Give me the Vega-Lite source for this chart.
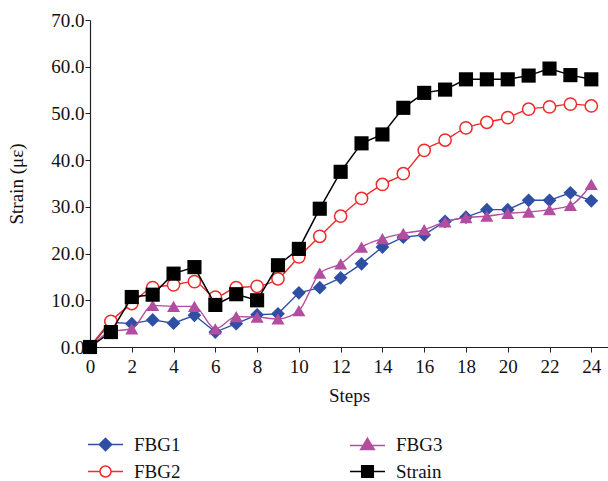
{
  "$schema": "https://vega.github.io/schema/vega-lite/v6.json",
  "width": 518,
  "height": 327,
  "autosize": {"type": "none"},
  "padding": {"left": 90, "top": 20, "right": 0, "bottom": 134},
  "background": "white",
  "config": {
    "view": {"stroke": null},
    "axis": {
      "grid": false,
      "domainColor": "#222",
      "domainWidth": 1.2,
      "tickColor": "#222",
      "tickSize": 5,
      "labelFont": "Liberation Serif",
      "labelFontSize": 19,
      "labelColor": "#111",
      "titleFont": "Liberation Serif",
      "titleFontSize": 19,
      "titleFontWeight": "normal",
      "titleColor": "#111"
    },
    "legend": {
      "labelFont": "Liberation Serif",
      "labelFontSize": 19,
      "labelColor": "#111"
    }
  },
  "data": {
    "values": [
      {"step": 0, "FBG1": 0.0, "FBG2": 0.0, "FBG3": 0.0, "Strain": 0.0},
      {"step": 1, "FBG1": 5.3, "FBG2": 5.5, "FBG3": 3.3, "Strain": 3.2},
      {"step": 2, "FBG1": 5.0, "FBG2": 9.3, "FBG3": 3.9, "Strain": 10.7},
      {"step": 3, "FBG1": 5.8, "FBG2": 12.7, "FBG3": 8.9, "Strain": 11.2},
      {"step": 4, "FBG1": 5.1, "FBG2": 13.3, "FBG3": 8.7, "Strain": 15.7},
      {"step": 5, "FBG1": 6.8, "FBG2": 14.0, "FBG3": 8.7, "Strain": 17.1},
      {"step": 6, "FBG1": 3.2, "FBG2": 10.7, "FBG3": 3.9, "Strain": 9.0},
      {"step": 7, "FBG1": 5.0, "FBG2": 12.7, "FBG3": 6.5, "Strain": 11.3},
      {"step": 8, "FBG1": 6.9, "FBG2": 13.0, "FBG3": 6.4, "Strain": 10.0},
      {"step": 9, "FBG1": 7.1, "FBG2": 14.6, "FBG3": 6.0, "Strain": 17.5},
      {"step": 10, "FBG1": 11.6, "FBG2": 19.3, "FBG3": 7.8, "Strain": 21.0},
      {"step": 11, "FBG1": 12.7, "FBG2": 23.7, "FBG3": 15.8, "Strain": 29.6},
      {"step": 12, "FBG1": 14.8, "FBG2": 28.0, "FBG3": 17.8, "Strain": 37.5},
      {"step": 13, "FBG1": 17.8, "FBG2": 31.8, "FBG3": 21.4, "Strain": 43.6},
      {"step": 14, "FBG1": 21.4, "FBG2": 34.8, "FBG3": 23.2, "Strain": 45.5},
      {"step": 15, "FBG1": 23.5, "FBG2": 37.1, "FBG3": 24.3, "Strain": 51.2},
      {"step": 16, "FBG1": 24.0, "FBG2": 42.1, "FBG3": 25.1, "Strain": 54.4},
      {"step": 17, "FBG1": 26.9, "FBG2": 44.3, "FBG3": 26.8, "Strain": 55.1},
      {"step": 18, "FBG1": 27.8, "FBG2": 46.9, "FBG3": 27.7, "Strain": 57.3},
      {"step": 19, "FBG1": 29.4, "FBG2": 48.1, "FBG3": 28.0, "Strain": 57.3},
      {"step": 20, "FBG1": 29.4, "FBG2": 49.1, "FBG3": 28.6, "Strain": 57.3},
      {"step": 21, "FBG1": 31.4, "FBG2": 50.9, "FBG3": 28.9, "Strain": 58.1},
      {"step": 22, "FBG1": 31.4, "FBG2": 51.4, "FBG3": 29.4, "Strain": 59.6},
      {"step": 23, "FBG1": 33.0, "FBG2": 52.0, "FBG3": 30.3, "Strain": 58.2},
      {"step": 24, "FBG1": 31.3, "FBG2": 51.6, "FBG3": 34.8, "Strain": 57.3}
    ]
  },
  "encoding": {
    "x": {
      "field": "step",
      "type": "quantitative",
      "scale": {"domain": [0, 24.8], "nice": false, "zero": false},
      "axis": {
        "title": "Steps",
        "values": [0, 2, 4, 6, 8, 10, 12, 14, 16, 18, 20, 22, 24],
        "labelPadding": 5,
        "titlePadding": 10,
        "labelFlush": false,
        "labelBound": false
      }
    }
  },
  "layer": [
    {
      "mark": {"type": "line", "color": "#2e4fa3", "strokeWidth": 1.4},
      "encoding": {
        "y": {
          "field": "FBG1",
          "type": "quantitative",
          "scale": {"domain": [0, 70], "nice": false},
          "axis": {
            "title": "Strain (με)",
            "values": [0, 10, 20, 30, 40, 50, 60, 70],
            "format": ".1f",
            "labelPadding": 1,
            "titlePadding": 24,
            "labelFlush": false
          }
        }
      }
    },
    {
      "mark": {"type": "point", "shape": "diamond", "filled": true, "color": "#2e4fa3", "size": 190, "opacity": 1},
      "encoding": {"y": {"field": "FBG1", "type": "quantitative"}}
    },
    {
      "mark": {"type": "line", "color": "#ee2a2a", "strokeWidth": 1.4, "interpolate": "monotone"},
      "encoding": {"y": {"field": "FBG2", "type": "quantitative"}}
    },
    {
      "mark": {"type": "point", "shape": "circle", "filled": true, "fill": "white", "stroke": "#ee2a2a", "strokeWidth": 1.5, "size": 150, "opacity": 1},
      "encoding": {"y": {"field": "FBG2", "type": "quantitative"}}
    },
    {
      "mark": {"type": "line", "color": "#b24d9f", "strokeWidth": 1.4, "interpolate": "monotone"},
      "encoding": {"y": {"field": "FBG3", "type": "quantitative"}}
    },
    {
      "mark": {"type": "point", "shape": "triangle-up", "filled": true, "color": "#b24d9f", "size": 170, "opacity": 1},
      "encoding": {"y": {"field": "FBG3", "type": "quantitative"}}
    },
    {
      "mark": {"type": "line", "color": "#000000", "strokeWidth": 1.5},
      "encoding": {"y": {"field": "Strain", "type": "quantitative"}}
    },
    {
      "mark": {"type": "point", "shape": "square", "filled": true, "color": "#000000", "size": 200, "opacity": 1},
      "encoding": {"y": {"field": "Strain", "type": "quantitative"}}
    },
    {
      "transform": [
        {"fold": ["FBG1", "FBG2", "FBG3", "Strain"], "as": ["series", "val"]}
      ],
      "mark": {"type": "point", "filled": true, "opacity": 0, "strokeWidth": 1.5},
      "encoding": {
        "y": {"field": "val", "type": "quantitative"},
        "shape": {
          "field": "series",
          "type": "nominal",
          "scale": {
            "domain": ["FBG1", "FBG2", "FBG3", "Strain"],
            "range": [
              "M-1.75,0L-0.62,0L0,-0.62L0.62,0L1.75,0L0.62,0L0,0.62L-0.62,0Z",
              "M-1.75,0L-0.55,0M0.55,0L1.75,0M0.55,0A0.55,0.55,0,1,1,-0.55,0A0.55,0.55,0,1,1,0.55,0Z",
              "M-1.75,0.1L1.75,0.1M0,-0.62L0.68,0.5L-0.68,0.5Z",
              "M-1.75,0L1.75,0M-0.58,-0.58L0.58,-0.58L0.58,0.58L-0.58,0.58Z"
            ]
          },
          "legend": {
            "title": null,
            "orient": "none",
            "legendX": 4.5,
            "legendY": 413.5,
            "columns": 2,
            "columnPadding": 166,
            "rowPadding": 6,
            "labelOffset": 17.5,
            "symbolSize": 400,
            "symbolStrokeWidth": 1.5,
            "symbolOpacity": 1,
            "values": ["FBG1", "FBG2", "FBG3", "Strain"],
            "encode": {"symbols": {"update": {"opacity": {"value": 1}}}}
          }
        },
        "fill": {
          "field": "series",
          "type": "nominal",
          "scale": {
            "domain": ["FBG1", "FBG2", "FBG3", "Strain"],
            "range": ["#2e4fa3", "#ffffff", "#b24d9f", "#000000"]
          },
          "legend": {
            "title": null,
            "orient": "none",
            "legendX": 4.5,
            "legendY": 413.5,
            "columns": 2,
            "columnPadding": 166,
            "rowPadding": 6,
            "labelOffset": 17.5,
            "symbolSize": 400,
            "symbolStrokeWidth": 1.5,
            "symbolOpacity": 1,
            "values": ["FBG1", "FBG2", "FBG3", "Strain"],
            "encode": {"symbols": {"update": {"opacity": {"value": 1}}}}
          }
        },
        "stroke": {
          "field": "series",
          "type": "nominal",
          "scale": {
            "domain": ["FBG1", "FBG2", "FBG3", "Strain"],
            "range": ["#2e4fa3", "#ee2a2a", "#b24d9f", "#000000"]
          },
          "legend": {
            "title": null,
            "orient": "none",
            "legendX": 4.5,
            "legendY": 413.5,
            "columns": 2,
            "columnPadding": 166,
            "rowPadding": 6,
            "labelOffset": 17.5,
            "symbolSize": 400,
            "symbolStrokeWidth": 1.5,
            "symbolOpacity": 1,
            "values": ["FBG1", "FBG2", "FBG3", "Strain"],
            "encode": {"symbols": {"update": {"opacity": {"value": 1}}}}
          }
        }
      }
    }
  ]
}
